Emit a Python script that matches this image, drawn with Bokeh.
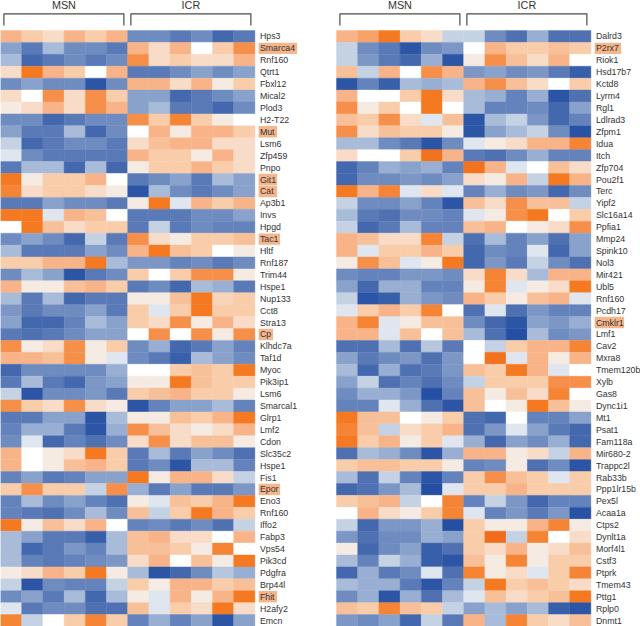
from bokeh.plotting import figure
from bokeh.models import ColumnDataSource, LinearColorMapper, Range1d
from bokeh.transform import transform
from bokeh.core.properties import value
from bokeh.embed import file_html
from bokeh.resources import INLINE

groups = ["MSN", "ICR"]

genes_left = ["Hps3","Smarca4","Rnf160","Qtrt1","Fbxl12","Mical2","Plod3","H2-T22","Mut","Lsm6","Zfp459","Pnpo","Git1","Cat","Ap3b1","Invs","Hpgd","Tac1","Hltf","Rnf187","Trim44","Hspe1","Nup133","Cct8","Stra13","Cp","Klhdc7a","Taf1d","Myoc","Pik3ip1","Lsm6","Smarcal1","Glrp1","Lmf2","Cdon","Slc35c2","Hspe1","Fis1","Epor","Eno3","Rnf160","Iffo2","Fabp3","Vps54","Pik3cd","Pdgfra","Brp44l","Fhit","H2afy2","Emcn"]
genes_right = ["Dalrd3","P2rx7","Riok1","Hsd17b7","Kctd8","Lyrm4","Rgl1","Ldlrad3","Zfpm1","Idua","Itch","Zfp704","Pou2f1","Terc","Yipf2","Slc16a14","Ppfia1","Mmp24","Spink10","Nol3","Mir421","Ubl5","Rnf160","Pcdh17","Cmklr1","Lmf1","Cav2","Mxra8","Tmem120b","Xylb","Gas8","Dync1i1","Mt1","Psat1","Fam118a","Mir680-2","Trappc2l","Rab33b","Ppp1lr15b","Pex5l","Acaa1a","Ctps2","Dynlt1a","Morf4l1","Cstf3","Ptprk","Tmem43","Pttg1","Rplp0","Dnmt1"]

values_left = [
[4,3,2,4,3,4,-5,-5,-6,-5,-7,-6],
[-4,-6,-3,-5,-5,-6,4,2,4,0,3,5],
[-3,-7,-6,-5,-6,-5,5,2,3,2,2,4],
[2,6,4,3,0,4,-6,-6,-5,-4,-5,-4],
[-5,-4,-5,-5,-8,-5,4,4,2,4,1,3],
[2,0,5,2,5,3,-4,-4,-7,-6,-5,-4],
[1,2,4,2,5,4,-4,-3,-6,-6,-7,-5],
[-5,-5,-7,-6,-5,-5,5,3,5.5,3,1,0],
[-4,-6,-6,-3,-7,-5,0,4,1,4,4,3],
[-2,-7,-6,-5,-5,-6,2,3.5,4,4,2,2],
[-1,-5,-6,-6,-6,-6,4,3,3,1,4,2],
[-6,-3,-3,-7,-3,-7,1,3,3,4,3,2],
[6,1,3,3,4,0,-6,-5,-4,-6,-3,-4],
[5.5,2,3,3,2,1,-8,-3,-5,-6,-5,-4],
[-6,-6,-4,-5,-5,-6,1,6,-1,4,3,4],
[6,6,-1,4,3.5,0,-6,-6,-6,-5,-5,-4],
[0,6,3.5,2,3,3,-6,-2,-6,-5,-5.5,-5.5],
[-5,-4,-5,-7,-2,-6,5,2,1,3,3,3.5],
[-3,-6,-6,-6,-4,-5,4,6,3.5,3,0,1],
[3,3,4,4,6,-3,-4.5,-4.5,-5.5,-5,-6,-5],
[-5,-3,-4,-8,-6,-5,3,0,3,5,5,1],
[4,1,1,3.5,4,3,-6,-5,-7,-3,-3.5,-6],
[-3,-6,-3,-7,-6,-6,1,1,3.5,6,2.5,3],
[-4.5,-6,-5,-5,-4,-6,3,-1,3,6,3,3],
[-4,-7,-7,-5.5,-3,-4,3,2,5,1,4,2],
[-6,-6.5,-6,-5,-4,-4,0,5,0,5,1,5],
[5,1,2,5,1,3,-5,-3.5,-7,-6,-4,-5.5],
[4,4,3.5,5,1,-1,-5,-6,-7.5,-3,-4,-5],
[-7,-5,-5,-5,-5,-3.5,0,0,3,3.5,3,6],
[-6,-3,-6,-7,-4.5,-4,1,1,6,3.5,3,3],
[-2,-8,-5,-5,-4.5,-6,3,3.5,4,3,3,1],
[5,3,2,5,2,1,-8,-5.5,-4,-4,-3,-5.5],
[-6,-6,-4,-4,-8,-3,1,1,3.5,3,4,6],
[-5.5,-3.5,-3.5,-6,-8,-3.5,5,3.5,2,1,2,4],
[-5,-1,-7,-5.5,-6.5,-5,2,5,2,3.5,3.5,1],
[4,0,1,2,6,3,-6,-3,-6,-4,-5,-6.5],
[4,0,1,3.5,4,3,-6,-5,-8,-3,-3,-5.5],
[-5.5,-4,-6,-5.5,-4,-4,6,1,4,4,2,-2],
[3,5,3,3,-2,5,-3.5,-6,-4,-6,-6,-4.5],
[-5.5,-3,-5,-4,-5.5,-6.5,1,-1,3.5,3,4,6],
[-5.5,-6,-6.5,-5,-3,-5,3.5,-2,3,6,4,3],
[6,1,3.5,2,4,0,-5.5,-5,-6,-5,-6.5,-2],
[-3,-4,-6,-6,-7.5,-3,3.5,4,2,2,0,4],
[-3,-7,-6,-4.5,-5.5,-3,3.5,3.5,3,1,5.5,0],
[-3,-5.5,-6,-5.5,-5,-4.5,2,4,0,3.5,1,6],
[1,2,4,3,6,1,-3,-8,-7,-5,-2.5,-3.5],
[-2,-8,-5,-5.5,-5.5,-2,3,1,4,4,3,3.5],
[-5,-4,-6,-3,-7,-3,1,-1,4,1,4,6],
[-1,-6,-5,-5,-6.5,-6.5,3.5,-1,3,2,6,2],
[5.5,-2,0,3,5.5,3,-5.5,-3.5,-5.5,-4,-8,-4],
]

values_right = [
[4,4.5,6,3,2,-2,-2,-5,-6.5,-3.5,-6.5,-6.5],
[-2,-5,-6,-8,-5,-4.5,0,4,3,3,3.5,3],
[-2,-4.5,-6,-7,-3.5,-8,1,5,3.5,2,4,0],
[3.5,-2,4,0,5,4,-4.5,-4,-5,-4.5,-6,-7.5],
[-8,-5.5,-7.5,-3,-3.5,-3,4,5,3.5,2,0,3],
[4,0,0,3,6,2,-3,-3.5,-5.5,-3.5,-8,-6.5],
[5,1,3,0,6,0,-3,-5.5,-5.5,-5,-7,-4],
[3.5,3,5,2,-1,3.5,-8,-3,-2,-4.5,-7,-5.5],
[5,2,3.5,3,3,1,-8,-4,-3,-2,-5,-8.5],
[-3,-3,-5,-6,-8,-5,-1,1,2,4,4,5.5],
[2,0,0,3,6.5,4,-6,-6.5,-5,-3.5,-5.5,-5.5],
[-7,-5.5,-3.5,-4,-3.5,-5.5,6.5,4,-1,0,3.5,2],
[-7,-5,-5,-4.5,-5,-4,2,1,4,-2,6,4],
[6,4,5.5,-1,2,-1,-5.5,-3.5,-5,-4.5,-7,-5],
[-2,-5,-5,-4,-5.5,-8,3.5,2,5,3.5,3.5,-2],
[-3,-6,-6.5,-5,-5,-5.5,-1,1,5,6,0,3],
[-2,-7,-6,-3,-5.5,-5.5,3.5,4,0,1,2,5],
[4,3.5,2,2,5.5,-2,-6.5,-3,-5.5,-4,-6.5,-4],
[4,-1,3,3,4,3,-7,-5,-5.5,-1,-7,-4],
[1,5,3.5,-1,1,6,-7,-4.5,-6,-2,-5,-6.5],
[-5,-5.5,-5.5,-4.5,-4.5,-5,2,5.5,2,-3,4,4],
[-4,-7,-3.5,-3.5,-5.5,-5.5,1,5.5,-1,1,2,6],
[-2,-8,-7.5,-3.5,-4.5,-5,4,3,1,3.5,4,-1],
[-1,3,4,3,5.5,0,-6.5,-1,-6.5,-4.5,-5.5,-5.5],
[4,5.5,-1,1,3.5,3.5,-5,-7,-8,-4,-4.5,-3.5],
[4,4,-1,3.5,0,3.5,-3,-6.5,-9,-3,-5,-4.5],
[-6.5,-6.5,-3,-6.5,-2.5,-6,0,-2,3,4,4,5.5],
[-4,-6,-5,-4.5,-6.5,-4.5,0,6.5,-1,4,1,4],
[-3,-7,-3.5,-6.5,-6,-4.5,3.5,3,6,4,-1,0],
[-4,-2,-6.5,-5.5,-6.5,-5,-2,3,3,3,5,5],
[-5,-3.5,-3.5,-4.5,-9,-5.5,3.5,1,3.5,2,5.5,0],
[-5.5,-5.5,-1,-3.5,-6.5,-8,3.5,0,1,6,3.5,1],
[6,3.5,3.5,0,1,3,-6.5,-7,0,-5.5,-5.5,-4],
[5.5,3.5,-2,2,3,4,-6.5,-4.5,-1,-4,-6,-7],
[6,3,4,1,3,-1,-3.5,-7,-4,-5,-3.5,-7],
[-6.5,-3,-3.5,-5,-8,-3.5,4,4,1,2,-2,4],
[3,3.5,3.5,3,3,1,-5.5,-5,1,-6.5,-5,-8],
[-3,-6.5,-2,-5.5,-8,-5.5,3,5,3.5,3,-1,3],
[-7,-6.5,-4.5,-3,-9,-1,3,3,4,3,3,3],
[3,3.5,4,-2,0,5.5,-5.5,-2,-4.5,-7,-5.5,-5.5],
[0,4,2,1,3,5.5,-1,-5.5,-4.5,-6,-4.5,-8.5],
[-2,-7,-4.5,-4.5,-3.5,-9,3,1,1,4,5.5,1],
[-4.5,-6.5,-5,-5,-3.5,-4,3,7,-2,5.5,0,2],
[1,-7,-5,-4,-7.5,-6.5,3,2,4,1,2,3.5],
[-3,-5.5,-2,-3.5,-7.5,-8,3.5,1,5.5,1,3,3],
[-7,-3.5,-6,-5,-1,-6.5,5.5,1,2,-1,3,5.5],
[-3,-3.5,-3.5,-6,-8,-5.5,-2,6,3,3.5,3,2],
[-5,-3.5,-8,-3.5,-6.5,-3,-1,3.5,2,3,3.5,6],
[3.5,3,5.5,3.5,3,-2,-4,-3,-4,-3,-7.5,-8],
[-4.5,-5,-4,-7,-2,-6,4,-3,5.5,3,2,3.5],
]

# highlighted gene labels: name -> box width in pixels (left panel, right panel)
marked_left = {"Smarca4": 38.5, "Mut": 18.5, "Git1": 18.5, "Cat": 18.5, "Tac1": 21.5, "Cp": 14.5, "Epor": 21.5, "Fhit": 18.5}
marked_right = {"P2rx7": 26.5, "Cmklr1": 29.5}

# colour scale: value -> colour stops
stops = [(-9,(0x24,0x4F,0xA3)),(-8,(0x2C,0x56,0xA5)),(-7,(0x44,0x68,0xAE)),(-6,(0x5A,0x7A,0xB7)),(-5,(0x6F,0x8C,0xC0)),
         (-4,(0x88,0xA2,0xCC)),(-3,(0xA8,0xBB,0xD9)),(-2,(0xC5,0xD2,0xE3)),(-1,(0xDF,0xE6,0xEF)),(0,(0xFF,0xFF,0xFF)),
         (1,(0xF5,0xEB,0xE2)),(2,(0xF8,0xDC,0xC8)),(3,(0xF9,0xCD,0xAA)),(4,(0xF8,0xB4,0x88)),(5,(0xF6,0x8F,0x4A)),
         (6,(0xF4,0x79,0x20)),(7,(0xF0,0x6C,0x1C))]
palette = []
for (v0, c0), (v1, c1) in zip(stops[:-1], stops[1:]):
    for k in range(10):
        t = k / 10
        palette.append("#%02x%02x%02x" % tuple(round(a + (b - a) * t) for a, b in zip(c0, c1)))
palette.append("#%02x%02x%02x" % stops[-1][1])
mapper = LinearColorMapper(palette=palette, low=-9.05, high=7.05)

CW, RH = 21.2, 11.92          # pixels per column / per row
W, H = 640, 626
p = figure(width=W, height=H, output_backend="svg", toolbar_location=None,
           x_range=Range1d(0, W / CW), y_range=Range1d((H - 30) / RH, -30 / RH),
           min_border=0, outline_line_color=None)
p.axis.visible = False
p.grid.visible = False
p.background_fill_color = "white"

panels = [(0.0, genes_left, values_left, marked_left),
          (336.0 / CW, genes_right, values_right, marked_right)]

for off, genes, vals, marked in panels:
    xs, ys, vs = [], [], []
    for r, row in enumerate(vals):
        for c, v in enumerate(row):
            xs.append(off + c + 0.5); ys.append(r + 0.5); vs.append(v)
    src = ColumnDataSource(dict(x=xs, y=ys, v=vs))
    cm = transform("v", mapper)
    p.rect("x", "y", 1, 1, source=src, fill_color=cm, line_color=cm, line_width=0.4)

    lab_x = off + 12 + 5 / CW
    rows = [i for i, g in enumerate(genes) if g in marked]
    p.quad(left=[lab_x - 1.3 / CW] * len(rows),
           right=[lab_x - 1.3 / CW + marked[genes[i]] / CW for i in rows],
           top=[i + 0.02 for i in rows], bottom=[i + 0.98 for i in rows],
           fill_color="#F5B68C", line_color=None)
    p.text([lab_x] * len(genes), [i + 0.5 for i in range(len(genes))], text=genes,
           text_font=value("Liberation Sans"), text_font_size="8.8px", text_color="#333333",
           text_baseline="middle", text_align="left")

    top, bot = -16.7 / RH, -5.0 / RH
    for k, g in enumerate(groups):
        a = off + 0.16 + 5.99 * k
        b = a + 5.66
        p.line([a, a, b, b], [bot, top, top, bot], line_color="#4a4a4a", line_width=1.2)
        p.text([(a + b) / 2], [-25.5 / RH], text=[g], text_font=value("Liberation Sans"),
               text_font_size="10.8px", text_color="#333333", text_baseline="middle", text_align="center")

open("out.html", "w").write(file_html(p, INLINE))
